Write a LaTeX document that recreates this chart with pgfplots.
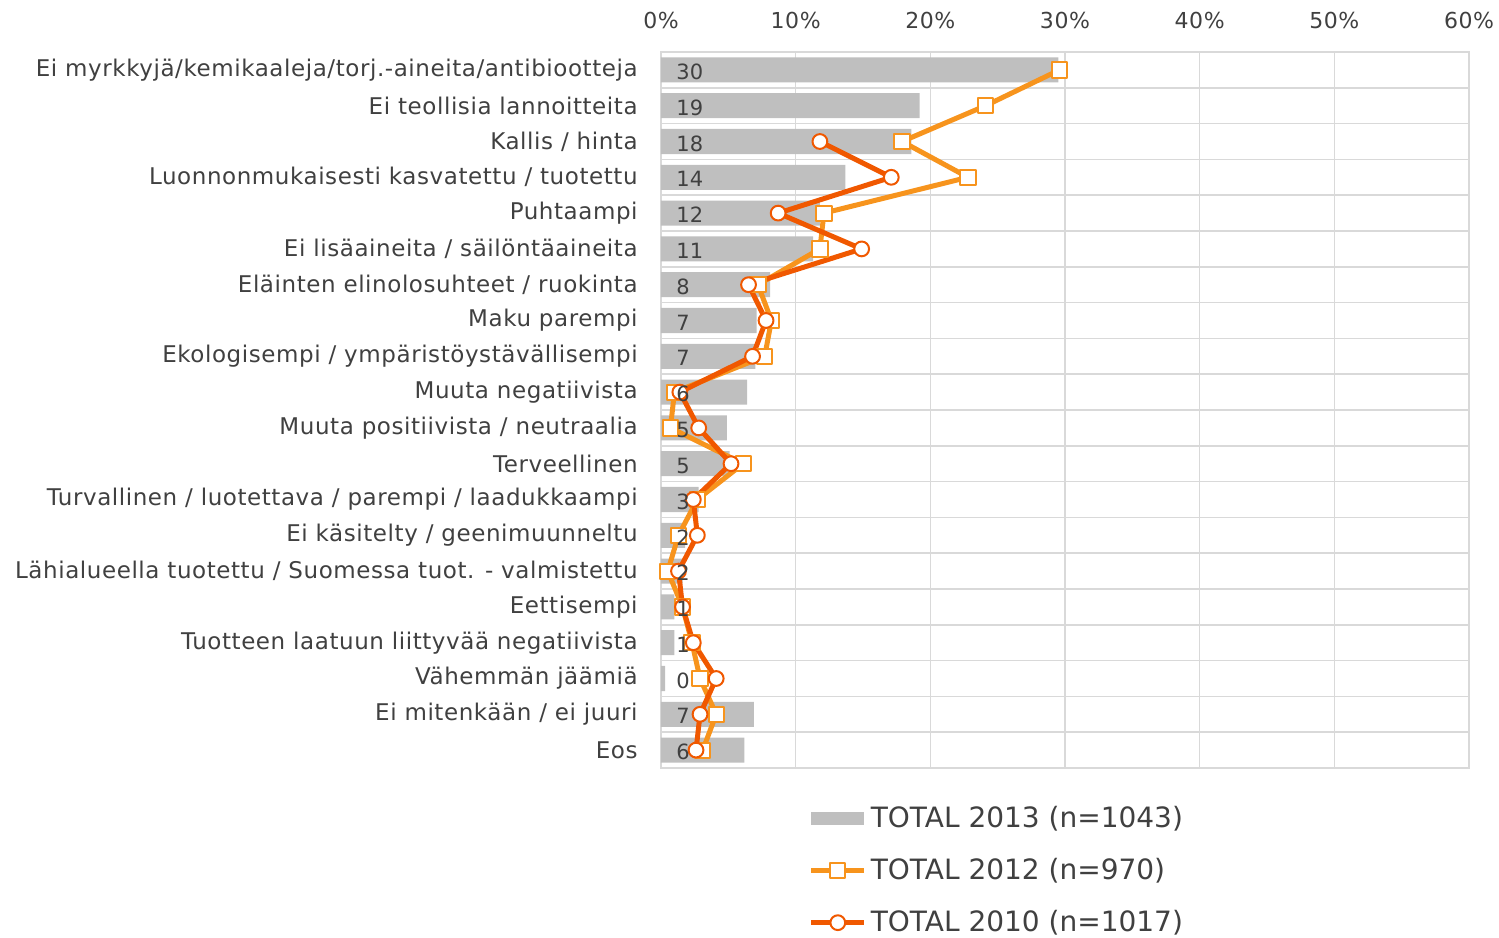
\documentclass[border=0pt]{standalone}
\usepackage{fontspec}
\setmainfont{DejaVu Sans}
\newfontfamily\catfont[LetterSpace=2.5]{DejaVu Sans}
\usepackage{pgfplots}
\pgfplotsset{compat=1.18}
\usepackage{pgfplotstable}
\definecolor{bargray}{RGB}{191,191,191}
\definecolor{or12}{RGB}{247,148,29}
\definecolor{or10}{RGB}{240,88,0}
\definecolor{txt}{RGB}{64,64,64}
\definecolor{gridc}{RGB}{217,217,217}

\pgfplotsset{
  linelegend/.style={legend image code/.code={\draw[##1, mark repeat=2, mark phase=2] plot coordinates {(0pt,0pt) (13.25pt,0pt) (26.5pt,0pt)};}},
  barlegend/.style={legend image code/.code={\fill[bargray] (0pt,-3.25pt) rectangle (26.5pt,3.25pt);}},
}

\pgfplotstableread{
y  t13  lab
0  29.5 30
1  19.2 19
2  18.6 18
3  13.7 14
4  11.8 12
5  11.3 11
6  8.1  8
7  7.1  7
8  7.0  7
9  6.4  6
10 4.9  5
11 5.1  5
12 2.8  3
13 1.8  2
14 1.6  2
15 1.0  1
16 1.0  1
17 0.3  0
18 6.9  7
19 6.2  6
}\tthirteen

\pgfplotstableread{
y  v
0  29.6
1  24.1
2  17.9
3  22.8
4  12.1
5  11.8
6  7.2
7  8.2
8  7.7
9  1.0
10 0.7
11 6.1
12 2.7
13 1.3
14 0.5
15 1.6
16 2.3
17 2.9
18 4.1
19 3.1
}\ttwelve

\pgfplotstableread{
y  v
2  11.8
3  17.1
4  8.7
5  14.9
6  6.5
7  7.8
8  6.8
9  1.4
10 2.8
11 5.2
12 2.4
13 2.7
14 1.3
15 1.6
16 2.4
17 4.1
18 2.9
19 2.6
}\tten

\begin{document}
\begin{tikzpicture}
\begin{axis}[
  at={(330.5pt,84.5pt)}, anchor=south west,
  scale only axis, width=404pt, height=358pt,
  xmin=0, xmax=60, ymin=-0.5, ymax=19.5,
  y dir=reverse,
  xtick={0,10,...,60},
  xticklabels={0\%,10\%,20\%,30\%,40\%,50\%,60\%},
  xticklabel pos=top,
  xticklabel style={font=\catfont\fontsize{11}{12}\selectfont, text=txt, anchor=south, inner sep=0pt, yshift=11.5pt},
  ytick={0,...,19},
  yticklabels={
    Ei myrkkyjä/kemikaaleja/torj.-aineita/antibiootteja,
    Ei teollisia lannoitteita,
    Kallis / hinta,
    Luonnonmukaisesti kasvatettu / tuotettu,
    Puhtaampi,
    Ei lisäaineita / säilöntäaineita,
    Eläinten elinolosuhteet / ruokinta,
    Maku parempi,
    Ekologisempi / ympäristöystävällisempi,
    Muuta negatiivista,
    Muuta positiivista / neutraalia,
    Terveellinen,
    Turvallinen / luotettava / parempi / laadukkaampi,
    Ei käsitelty / geenimuunneltu,
    Lähialueella tuotettu / Suomessa tuot. - valmistettu,
    Eettisempi,
    Tuotteen laatuun liittyvää negatiivista,
    Vähemmän jäämiä,
    Ei mitenkään / ei juuri,
    Eos},
  yticklabel style={font=\catfont\fontsize{11.5}{13}\selectfont, text=txt, anchor=east, inner sep=0pt, xshift=-11.5pt},
  minor ytick={-0.5,0.5,...,19.5},
  major tick length=0pt, minor tick length=0pt,
  xmajorgrids, yminorgrids,
  grid style={draw=gridc, line width=0.8pt},
  minor grid style={draw=gridc, line width=0.8pt},
  axis line style={draw=gridc, line width=0.8pt},
  legend cell align=left,
  legend style={draw=none, fill=none, at={(0.175,-0.047)}, anchor=north west,
    font=\fontsize{14}{16}\selectfont, text=txt, row sep=14pt,
    nodes={inner xsep=2pt, inner ysep=0pt}},
]
\addplot[xbar, bar width=0.7, bar shift=0pt, fill=bargray, draw=none, barlegend]
  table[x=t13, y=y] {\tthirteen};
\addlegendentry{TOTAL 2013 (n=1043)}
\addplot[color=or12, line width=2.5pt, line join=round, mark=square*,
  mark size=3.8pt, mark options={fill=white, draw=or12, line width=1pt}, linelegend]
  table[x=v, y=y] {\ttwelve};
\addlegendentry{TOTAL 2012 (n=970)}
\addplot[color=or10, line width=2.5pt, line join=round, mark=*,
  mark size=3.7pt, mark options={fill=white, draw=or10, line width=1pt}, linelegend]
  table[x=v, y=y] {\tten};
\addlegendentry{TOTAL 2010 (n=1017)}
\addplot[draw=none, mark=none, forget plot, nodes near coords,
  point meta=explicit symbolic,
  nodes near coords style={anchor=west, inner sep=0pt, xshift=7.5pt, yshift=-1pt,
    font=\fontsize{10.5}{12}\selectfont, text=txt}]
  table[x expr=0, y=y, meta=lab] {\tthirteen};
\end{axis}
\pgfresetboundingbox
\path (0,0) rectangle (749.5pt,468.5pt);
\end{tikzpicture}
\end{document}
